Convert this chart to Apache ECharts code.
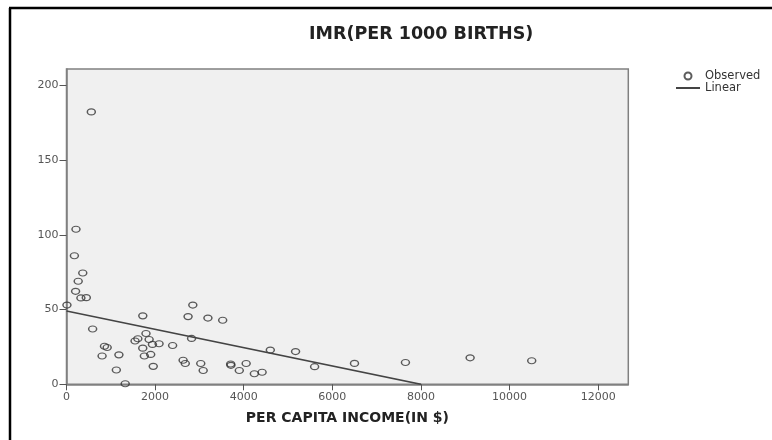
<!DOCTYPE html>
<html lang="en">

<head>
    <meta charset="UTF-8">
    <title>IMR vs per capita income</title>
    <style>
        * {
            margin: 0;
            padding: 0;
        }
        body {
            background: #fff;
        }
    </style>
    <script src="https://cdn.jsdelivr.net/npm/echarts@6/dist/echarts.min.js"></script>
</head>

<body>
    <div id="chart" style="width: 772px;height: 440px;"></div>
    <script>
        // observed points (per capita income, IMR)
        var obsX = [560, 214, 178, 367, 264, 205, 325, 447, 10, 590,
            1722, 2851, 2744, 3192, 3525, 1794, 1547, 1610, 1865, 1721,
            1940, 2089, 2395, 2823, 1900, 1757, 1958, 857, 918, 803,
            1183, 1125, 1325, 2632, 2681, 3030, 3085, 3705, 3711, 4055,
            3900, 4240, 4415, 4600, 5170, 5600, 6500, 7650, 9110, 10500]
        var obsY = [182.3, 103.8, 86, 74.5, 69, 62.2, 57.8, 58, 53, 37,
            45.8, 53, 45.3, 44.3, 42.9, 34, 29, 30.5, 30, 24.2,
            26.7, 27.1, 26, 30.7, 20, 18.9, 12, 25.5, 24.6, 18.9,
            19.7, 9.6, 0.4, 16.1, 13.9, 13.9, 9.2, 13.6, 12.7, 13.9,
            9.2, 7.1, 8.1, 22.9, 21.9, 11.8, 14, 14.6, 17.7, 15.8]
        // fitted line endpoints
        var linearX = [0, 8000]
        var linearY = [49, 0]
        var xTicks = [0, 2000, 4000, 6000, 8000, 10000, 12000]
        var yTicks = [0, 50, 100, 150, 200]

        var chart = echarts.init(document.getElementById('chart'), null, { renderer: 'canvas' })
        var tickFont = { fontFamily: 'DejaVu Sans', fontSize: 11, color: '#555' }
        var plain = v => String(v) // no thousands separator

        var option = {
            backgroundColor: '#fff',
            animation: false,
            title: {
                text: 'IMR(PER 1000 BIRTHS)',
                left: 309,
                top: 25,
                padding: 0,
                textStyle: { fontFamily: 'DejaVu Sans', fontWeight: 'bold', fontSize: 17.5, color: '#222' }
            },
            legend: {
                orient: 'vertical',
                left: 675,
                top: 70,
                padding: 0,
                itemGap: 0,
                itemWidth: 24,
                itemHeight: 7,
                textStyle: { fontFamily: 'DejaVu Sans', fontSize: 11.5, color: '#333', lineHeight: 10 },
                data: ['Observed', { name: 'Linear', itemStyle: { opacity: 0 } }]
            },
            grid: {
                left: 66.5,
                right: 143.7,
                top: 69,
                bottom: 55.7,
                show: true,
                backgroundColor: '#f0f0f0',
                borderColor: '#808080',
                borderWidth: 1.5
            },
            xAxis: {
                type: 'value',
                min: 0,
                max: 12680,
                name: 'PER CAPITA INCOME(IN $)',
                nameLocation: 'middle',
                nameGap: 27,
                nameTextStyle: { fontFamily: 'DejaVu Sans', fontWeight: 'bold', fontSize: 14, color: '#222' },
                splitLine: { show: false },
                axisLine: { show: true, lineStyle: { color: '#808080', width: 1.5 } },
                axisTick: { show: true, length: 6, lineStyle: { color: '#555' }, customValues: xTicks },
                axisLabel: Object.assign({ margin: 7, customValues: xTicks, formatter: plain }, tickFont)
            },
            yAxis: {
                type: 'value',
                min: 0,
                max: 211,
                splitLine: { show: false },
                axisLine: { show: true, lineStyle: { color: '#808080', width: 1.5 } },
                axisTick: { show: true, length: 7, lineStyle: { color: '#555' }, customValues: yTicks },
                axisLabel: Object.assign({ margin: 8, customValues: yTicks, formatter: plain }, tickFont)
            },
            series: [{
                name: 'Observed',
                type: 'scatter',
                symbol: 'circle',
                symbolSize: [8, 6],
                itemStyle: { color: 'rgba(0,0,0,0)', borderColor: '#333', borderWidth: 1.3 },
                data: obsX.map((x, i) => [x, obsY[i]])
            }, {
                name: 'Linear',
                type: 'line',
                symbol: 'none',
                lineStyle: { color: '#444', width: 1.6 },
                itemStyle: { color: '#444' },
                data: linearX.map((x, i) => [x, linearY[i]])
            }],
            graphic: [{
                type: 'line',
                shape: { x1: 10, y1: 8, x2: 10, y2: 440 },
                style: { stroke: '#000', lineWidth: 2.5 }
            }, {
                type: 'line',
                shape: { x1: 9, y1: 8, x2: 772, y2: 8 },
                style: { stroke: '#000', lineWidth: 2.5 }
            }]
        }
        chart.setOption(option)
    </script>
</body>

</html>
